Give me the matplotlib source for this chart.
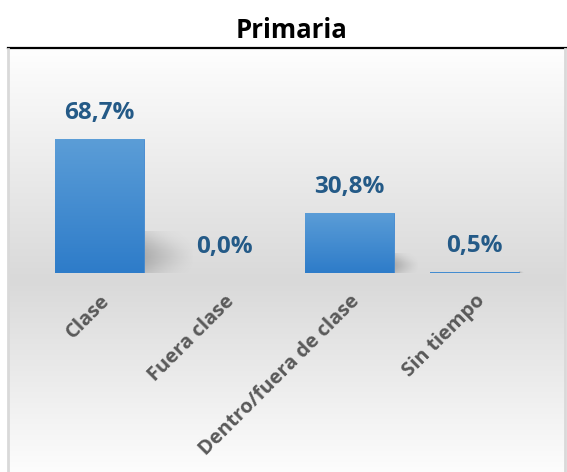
import numpy as np
import matplotlib.pyplot as plt
from matplotlib.lines import Line2D

plt.rcParams["font.family"] = ["Open Sans", "DejaVu Sans"]

# data
categories = ["Clase", "Fuera clase", "Dentro/fuera de clase", "Sin tiempo"]
values = [68.7, 0.0, 30.8, 0.5]
value_labels = ["68,7%", "0,0%", "30,8%", "0,5%"]
title = "Primaria"

W, H = 567, 472
fig = plt.figure(figsize=(W / 100, H / 100), dpi=100)

# panel background with vertical grey gradient
bg = fig.add_axes([8 / W, 0, 557 / W, 423 / H])
rows = np.arange(49, 472)
grey = np.interp(rows, [49, 280, 472], [254, 217, 253]) / 255.0
img = np.repeat(grey[:, None], 4, axis=1)
bg.imshow(np.dstack([img, img, img]), aspect="auto", extent=[0, 1, 0, 1])
bg.set_axis_off()

# borders
fig.add_artist(Line2D([8 / W, 566 / W], [1 - 48 / H, 1 - 48 / H],
                      color="black", lw=1.6, transform=fig.transFigure))
for xp in (8, 565):
    fig.add_artist(Line2D([xp / W, xp / W], [0, 1 - 49 / H],
                          color="#d9d9d9", lw=2, transform=fig.transFigure))

fig.text(292 / W, 1 - 31 / H, title, ha="center", va="center",
         fontsize=18.5, fontweight="bold", color="black")

# main axes
ax = fig.add_axes([37 / W, 199 / H, 500 / W, 156 / H])
ax.set_xlim(-0.5, 3.5)
ax.set_ylim(0, 80)
ax.patch.set_alpha(0)
for s in ax.spines.values():
    s.set_visible(False)

x = np.arange(len(categories))
bw = 0.712

# soft shadows to the right of each bar
n, m = 60, 60
uu, tt = np.meshgrid(np.linspace(0, 1, m), np.linspace(0, 1, n))
for xi, v in zip(x, values):
    if v <= 0:
        continue
    sw = 0.0054 * v + 0.03
    sh = 0.30 * v + 0.8
    spread = 0.55 * (1 - 0.6 * uu)
    alpha = 0.36 * (1 - uu) ** 1.2 * np.exp(-((tt - 0.42) / spread) ** 2)
    shadow = np.zeros((n, m, 4))
    shadow[..., :3] = 0.35
    shadow[..., 3] = alpha
    ax.imshow(shadow, extent=[xi + bw / 2, xi + bw / 2 + sw, -0.6, sh],
              origin="lower", aspect="auto", zorder=1, interpolation="bilinear")

# bars with vertical blue gradient
bars = ax.bar(x, values, width=bw, color="#4a8fd3", zorder=2,
              edgecolor="#3f87d0", linewidth=0.6)
top_c = np.array([91, 157, 215]) / 255.0
bot_c = np.array([46, 124, 201]) / 255.0
gt = np.linspace(0, 1, 64)[:, None]
grad = bot_c[None, :] * (1 - gt) + top_c[None, :] * gt
grad = np.repeat(grad[:, None, :], 2, axis=1)
for b, v in zip(bars, values):
    if v <= 0:
        b.set_linewidth(0)
        continue
    im = ax.imshow(grad, extent=[b.get_x(), b.get_x() + bw, 0, max(v, 0.5)],
                   origin="lower", aspect="auto", zorder=3)
    im.set_clip_path(b)

for xi, v, lab in zip(x, values, value_labels):
    ax.annotate(lab, (xi, v), xytext=(0, 10), textcoords="offset points",
                ha="center", va="bottom", fontsize=17.5, fontweight="bold",
                color="#245a87")

ax.set_yticks([])
ax.set_xticks(x)
ax.set_xticklabels(categories, rotation=45, ha="right", rotation_mode="anchor",
                   fontsize=14.5, fontweight="bold", color="#595959")
ax.tick_params(axis="x", length=0, pad=13)
ax.set_xlim(-0.5, 3.5)
ax.set_ylim(0, 80)

fig.savefig("out.png", dpi=100)
